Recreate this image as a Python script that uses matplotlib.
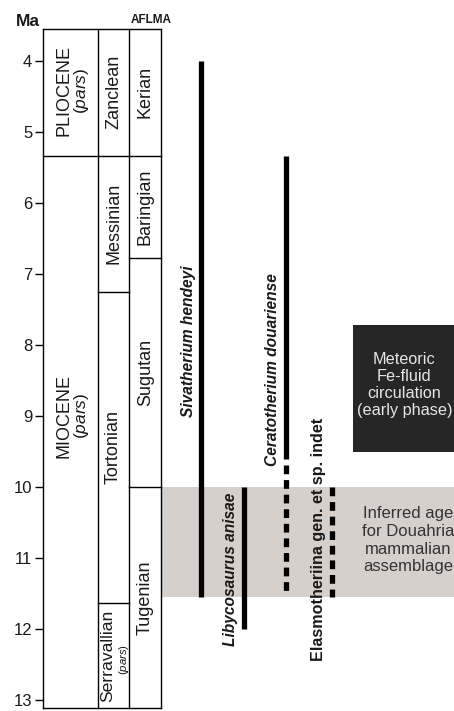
import matplotlib
matplotlib.use("Agg")
import matplotlib.pyplot as plt
from matplotlib.patches import Rectangle

plt.rcParams['font.family'] = ['Liberation Sans', 'DejaVu Sans']
plt.rcParams['mathtext.fontset'] = 'custom'
plt.rcParams['mathtext.rm'] = 'Liberation Sans'
plt.rcParams['mathtext.it'] = 'Liberation Sans:italic'
plt.rcParams['lines.scale_dashes'] = False

# ---------------- data ----------------
age_ticks = [4, 5, 6, 7, 8, 9, 10, 11, 12, 13]
age_top, age_bottom = 3.55, 13.11

epochs = ["PLIOCENE", "MIOCENE"]
epoch_bounds = [(3.55, 5.333), (5.333, 13.11)]
epoch_label_age = [4.42, 9.0]

stages = ["Zanclean", "Messinian", "Tortonian", "Serravallian"]
stage_bounds = [(3.55, 5.333), (5.333, 7.246), (7.246, 11.63), (11.63, 13.11)]
stage_pars = [False, False, False, True]

aflma = ["Kerian", "Baringian", "Sugutan", "Tugenian"]
aflma_bounds = [(3.55, 5.333), (5.333, 6.78), (6.78, 10.0), (10.0, 13.11)]

taxa = ["Sivatherium hendeyi", "Libycosaurus anisae",
        "Ceratotherium douariense", "Elasmotheriina gen. et sp. indet"]
taxa_solid = [(4.0, 11.55), (10.0, 12.0), (5.333, 9.6), None]
taxa_dashed = [None, None, (9.69, 11.51), (10.0, 11.55)]
taxa_label_age = [7.95, 11.16, 8.34, 10.73]
taxa_italic = [True, True, True, False]

inferred_range = (10.0, 11.55)
inferred_text = "Inferred age\nfor Douahria\nmammalian\nassemblage"
fluid_range = (7.72, 9.51)
fluid_text = "Meteoric\nFe-fluid\ncirculation\n(early phase)"

# ---------------- layout (pixel-like x units) ----------------
W, H = 454, 711
col_edges = [42.7, 97.7, 129.3, 161.3]
taxa_x = [200.7, 244.0, 286.0, 331.7]
taxa_label_x = [188.0, 230.0, 272.5, 319.0]
box_left = 352.7
LW = 1.0
TXT = '#1a1a1a'

fig = plt.figure(figsize=(W / 100, H / 100), dpi=100)
ax = fig.add_axes([col_edges[0] / W, 3 / H, (W - col_edges[0]) / W, 679 / H])
ax.set_xlim(col_edges[0], W)
ax.set_ylim(age_bottom, age_top)

for s in ['top', 'right', 'bottom']:
    ax.spines[s].set_visible(False)
ax.spines['left'].set_linewidth(LW)
ax.set_xticks([])
ax.set_yticks(age_ticks)
ax.set_yticklabels([str(t) for t in age_ticks])
ax.tick_params(axis='y', length=5.5, width=1.0, pad=2, labelsize=12, labelcolor=TXT)

# column frame
for x in col_edges[1:]:
    ax.plot([x, x], [age_top, age_bottom], color='k', lw=LW, clip_on=False)
for y in (age_top, age_bottom):
    ax.plot([col_edges[0], col_edges[-1]], [y, y], color='k', lw=LW, clip_on=False)

def column(ci, names, bounds, label_ages=None, pars=None, epoch=False):
    x0, x1 = col_edges[ci], col_edges[ci + 1]
    for i, (name, (a, b)) in enumerate(zip(names, bounds)):
        if b < age_bottom - 0.01:
            ax.plot([x0, x1], [b, b], color='k', lw=LW, clip_on=False)
        yc = label_ages[i] if label_ages else (a + b) / 2
        if epoch:
            ax.text(x0 + 21.6, yc, name, rotation=90, ha='center', va='center',
                    fontsize=13, color=TXT)
            ax.text(x0 + 38.5, yc, r"($\mathit{pars}$)", rotation=90, ha='center',
                    va='center', fontsize=12.5, color=TXT)
        elif pars and pars[i]:
            ax.text(x0 + 10.0, yc, name, rotation=90, ha='center', va='center',
                    fontsize=12.6, color=TXT)
            ax.text(x0 + 26.0, yc + 0.05, r"($\mathit{pars}$)", rotation=90, ha='center',
                    va='center', fontsize=8.2, color=TXT)
        else:
            ax.text((x0 + x1) / 2, yc, name, rotation=90, ha='center', va='center',
                    fontsize=13, color=TXT)

column(0, epochs, epoch_bounds, epoch_label_age, epoch=True)
column(1, stages, stage_bounds, pars=stage_pars)
column(2, aflma, aflma_bounds)

# inferred age band and fluid box
ax.add_patch(Rectangle((col_edges[-1], inferred_range[0]), W - col_edges[-1],
                       inferred_range[1] - inferred_range[0], facecolor='#d5d0cc',
                       edgecolor='none', zorder=0.5))
ax.add_patch(Rectangle((box_left, fluid_range[0]), W - box_left,
                       fluid_range[1] - fluid_range[0], facecolor='#262626',
                       edgecolor='none', zorder=0.5))
ax.text((box_left + W) / 2 + 1, sum(fluid_range) / 2 - 0.05, fluid_text, ha='center',
        va='center', fontsize=11.7, color='#e6e6e6', linespacing=1.18)
ax.text(408, 10.75, inferred_text, ha='center', va='center', fontsize=12,
        color='#333333', linespacing=1.22)

# taxa ranges
BAR = 3.8
for i, name in enumerate(taxa):
    x = taxa_x[i]
    if taxa_solid[i]:
        a, b = taxa_solid[i]
        ax.plot([x, x], [a, b], color='k', lw=BAR, solid_capstyle='butt', zorder=3)
    if taxa_dashed[i]:
        a, b = taxa_dashed[i]
        ax.plot([x, x], [a, b], color='k', lw=BAR, dashes=(6.3, 4.2),
                dash_capstyle='butt', zorder=3)
    ax.text(taxa_label_x[i], taxa_label_age[i], name, rotation=90, ha='center',
            va='center', fontsize=11.2 if taxa_italic[i] else 11.6, fontweight='bold',
            fontstyle='italic' if taxa_italic[i] else 'normal', color=TXT)

fig.text(27.5 / W, 1 - 21 / H, "Ma", fontsize=12.5, fontweight='bold', ha='center',
         va='center', color=TXT)
fig.text(151 / W, 1 - 20 / H, "AFLMA", fontsize=8.5, fontweight='bold', ha='center',
         va='center', color=TXT)

fig.savefig("out.png", dpi=100)
